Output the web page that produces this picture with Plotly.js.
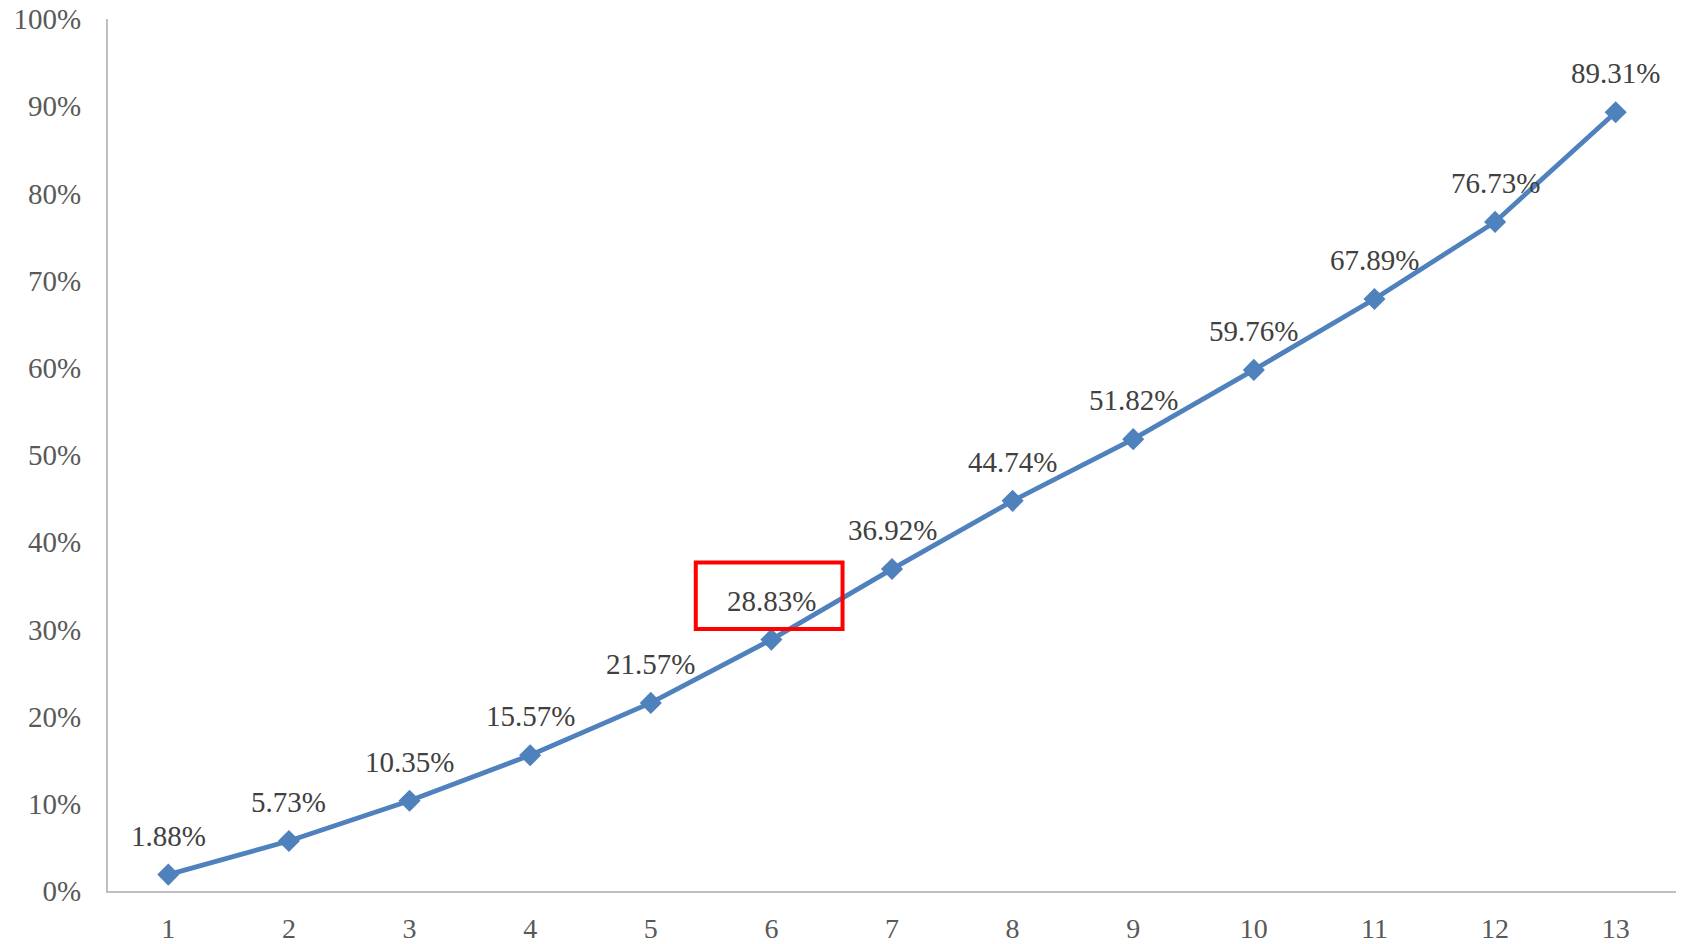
<!DOCTYPE html>
<html>
<head>
<meta charset="utf-8">
<script src="https://cdn.plot.ly/plotly-3.0.1.min.js"></script>
<style>html,body{margin:0;padding:0;background:#fff;}#chart{width:1686px;height:944px;}</style>
</head>
<body>
<div id="chart"></div>
<script>
const categories = ["1","2","3","4","5","6","7","8","9","10","11","12","13"];
const values = [0.0188,0.0573,0.1035,0.1557,0.2157,0.2883,0.3692,0.4474,0.5182,0.5976,0.6789,0.7673,0.8931];
const labels = ["1.88%","5.73%","10.35%","15.57%","21.57%","28.83%","36.92%","44.74%","51.82%","59.76%","67.89%","76.73%","89.31%"];
const highlightIndex = 5;

const fontFam = '"Liberation Serif", "DejaVu Serif", serif';

const trace = {
  x: categories,
  y: values,
  type: 'scatter',
  mode: 'lines+markers',
  line: {color: '#4F81BD', width: 4.8},
  marker: {symbol: 'diamond', size: 17, color: '#4F81BD'},
  hoverinfo: 'none'
};

const annotations = categories.map((c, i) => ({
  x: i, y: values[i], xref: 'x', yref: 'y',
  text: labels[i], showarrow: false, yshift: 39,
  font: {family: fontFam, size: 29, color: '#404040'}
}));

const hc = highlightIndex;
const shapes = [{
  type: 'rect', xref: 'x', yref: 'y',
  x0: hc - 0.627, x1: hc + 0.59,
  y0: values[hc] + 0.0123, y1: values[hc] + 0.0884,
  line: {color: '#FF0000', width: 4}
}];

const layout = {
  width: 1686, height: 944,
  margin: {l: 108, r: 10, t: 19, b: 53},
  paper_bgcolor: '#fff', plot_bgcolor: '#fff',
  showlegend: false,
  font: {family: fontFam, size: 28, color: '#595959'},
  xaxis: {
    type: 'category', range: [-0.5, 12.5],
    showgrid: false, zeroline: false,
    showline: true, linecolor: '#BFBFBF', linewidth: 2,
    ticks: '', ticklabelstandoff: 11,
    tickfont: {family: fontFam, size: 28, color: '#595959'}
  },
  yaxis: {
    range: [0, 1], dtick: 0.1, tickformat: '.0%',
    showgrid: false, zeroline: false,
    showline: true, linecolor: '#BFBFBF', linewidth: 2,
    ticks: '', ticklabelstandoff: 19,
    tickfont: {family: fontFam, size: 29, color: '#595959'}
  },
  annotations: annotations,
  shapes: shapes
};

Plotly.newPlot('chart', [trace], layout, {displayModeBar: false, staticPlot: true});
</script>
</body>
</html>
